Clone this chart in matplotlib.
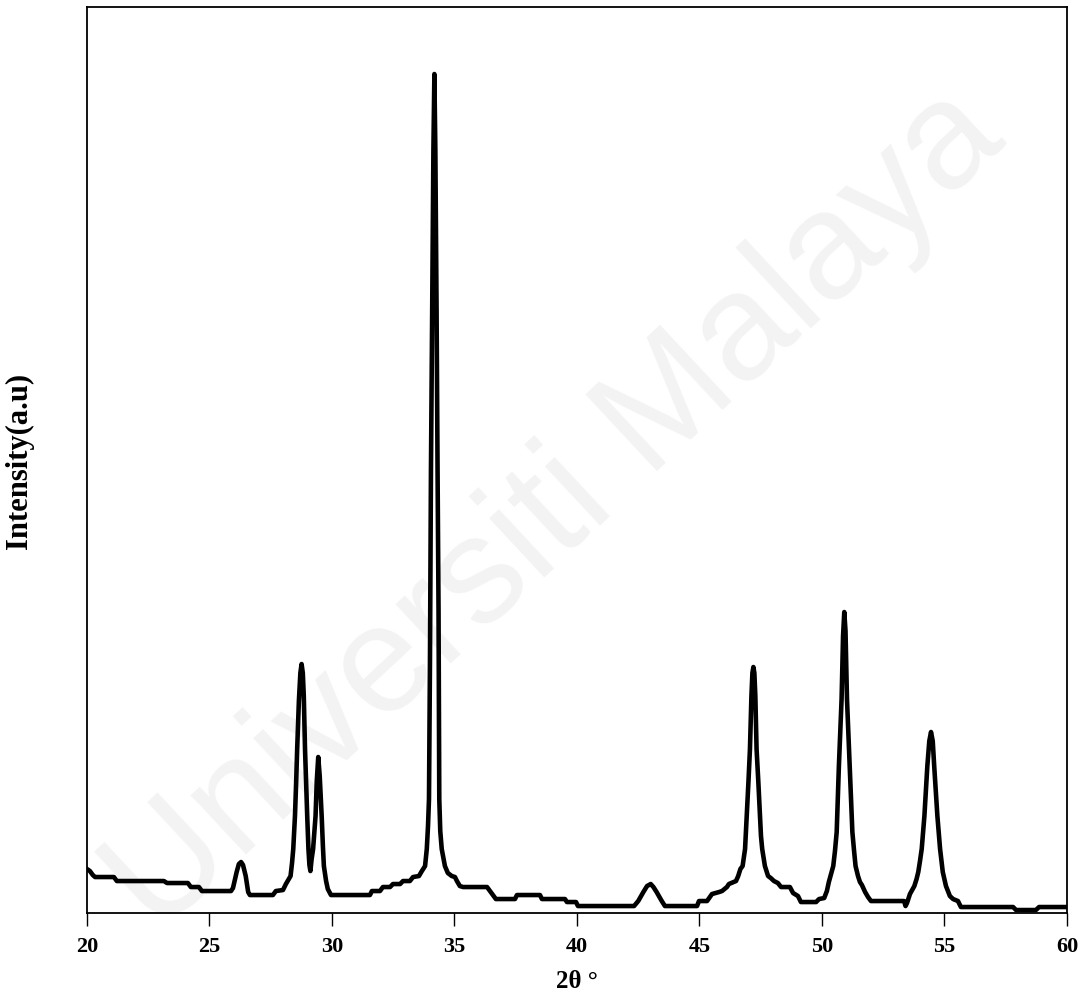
import numpy as np
import matplotlib.pyplot as plt

# 2theta (deg) and intensity (a.u.)
two_theta = [
    20.00, 20.12, 20.24, 20.33, 21.10, 21.22, 23.14, 23.27, 24.12, 24.24,
    24.57, 24.69, 25.88, 25.96, 26.11, 26.20, 26.29, 26.37, 26.48, 26.58,
    26.65, 27.59, 27.71, 28.00, 28.12, 28.24, 28.31, 28.37, 28.42, 28.49,
    28.54, 28.58, 28.65, 28.71, 28.76, 28.81, 28.85, 28.90, 28.95, 28.99,
    29.04, 29.08, 29.12, 29.17, 29.23, 29.33, 29.38, 29.44, 29.50, 29.58,
    29.63, 29.67, 29.76, 29.83, 29.96, 31.55, 31.63, 31.96, 32.08, 32.37,
    32.49, 32.78, 32.90, 33.18, 33.31, 33.55, 33.67, 33.80, 33.87, 33.92,
    33.96, 34.00, 34.04, 34.09, 34.14, 34.18, 34.22, 34.27, 34.31, 34.35,
    34.38, 34.42, 34.48, 34.61, 34.73, 34.89, 35.02, 35.10, 35.22, 35.35,
    36.33, 36.69, 37.47, 37.55, 38.49, 38.57, 39.51, 39.59, 39.96, 40.04,
    42.33, 42.50, 42.71, 42.86, 43.01, 43.12, 43.25, 43.46, 43.59, 44.90,
    44.98, 45.31, 45.51, 45.80, 45.92, 46.12, 46.20, 46.49, 46.58, 46.67,
    46.76, 46.82, 46.86, 46.93, 47.00, 47.06, 47.12, 47.16, 47.20, 47.24,
    47.28, 47.33, 47.40, 47.47, 47.51, 47.56, 47.67, 47.80, 47.91, 48.04,
    48.20, 48.33, 48.69, 48.82, 49.02, 49.14, 49.76, 49.88, 50.09, 50.20,
    50.28, 50.46, 50.53, 50.60, 50.69, 50.80, 50.86, 50.91, 50.96, 51.02,
    51.13, 51.24, 51.31, 51.37, 51.47, 51.55, 51.63, 51.76, 51.88, 52.00,
    53.35, 53.41, 53.47, 53.59, 53.77, 53.86, 53.93, 54.00, 54.07, 54.18,
    54.30, 54.38, 54.45, 54.52, 54.58, 54.71, 54.82, 54.93, 55.06, 55.22,
    55.35, 55.55, 55.67, 57.80, 57.92, 58.73, 58.86, 60.00,
]
intensity = [
    42, 40, 36, 34, 34, 30, 30, 28, 28, 24,
    24, 20, 20, 23, 39, 47, 49, 46, 35, 19,
    16, 16, 20, 21, 27, 32, 35, 48, 62, 95,
    130, 162, 210, 238, 247, 238, 215, 162, 125, 95,
    62, 46, 40, 52, 62, 95, 130, 154, 135, 95,
    65, 45, 30, 22, 16, 16, 20, 20, 24, 24,
    27, 27, 30, 30, 34, 35, 40, 45, 62, 85,
    112, 250, 440, 600, 760, 837, 760, 600, 440, 300,
    112, 80, 62, 45, 38, 35, 34, 30, 25, 24,
    24, 12, 12, 16, 16, 12, 12, 9, 9, 5,
    5, 10, 19, 25, 27, 24, 19, 10, 5, 5,
    10, 10, 17, 19, 20, 24, 27, 30, 35, 42,
    45, 55, 62, 95, 130, 162, 215, 238, 244, 238,
    215, 162, 130, 95, 75, 62, 45, 35, 33, 30,
    28, 24, 24, 18, 15, 9, 9, 12, 13, 20,
    29, 45, 60, 79, 145, 212, 275, 299, 280, 212,
    145, 79, 60, 45, 35, 29, 26, 19, 14, 10,
    10, 5, 8, 17, 25, 32, 39, 50, 62, 95,
    145, 170, 179, 170, 145, 95, 62, 39, 25, 15,
    12, 10, 4, 4, 1, 1, 4, 4,
]
x_ticks = [20, 25, 30, 35, 40, 45, 50, 55, 60]

fig = plt.figure(figsize=(10.91, 10.03), dpi=100)
ax = fig.add_axes([0.0797, 0.0892, 0.8983, 0.9028])
ax.patch.set_alpha(0)

# faint watermark behind the plot
fig.text(0.51, 0.49, 'Universiti Malaya', rotation=43, ha='center', va='center',
         fontsize=110, family='Liberation Sans', color='#f3f3f3', zorder=-1)

ax.plot(two_theta, intensity, color='black', lw=3.3, solid_joinstyle='round')

ax.set_xlim(20, 60)
ax.set_ylim(-1.5, 904)
ax.set_xticks(x_ticks)
ax.set_xticklabels([str(t) for t in x_ticks], family='Liberation Serif',
                   fontweight='bold', fontsize=16)
ax.set_yticks([])
ax.tick_params(axis='x', direction='out', length=9, width=1, pad=8, color='black')
for s in ax.spines.values():
    s.set_linewidth(1.3)
    s.set_color('black')

ax.set_xlabel('2θ °', family='Liberation Serif', fontweight='bold', fontsize=18,
              labelpad=9)
ax.set_ylabel('Intensity(a.u)', family='Liberation Serif', fontweight='bold',
              fontsize=22, labelpad=38)

fig.savefig('out.png', dpi=100)
